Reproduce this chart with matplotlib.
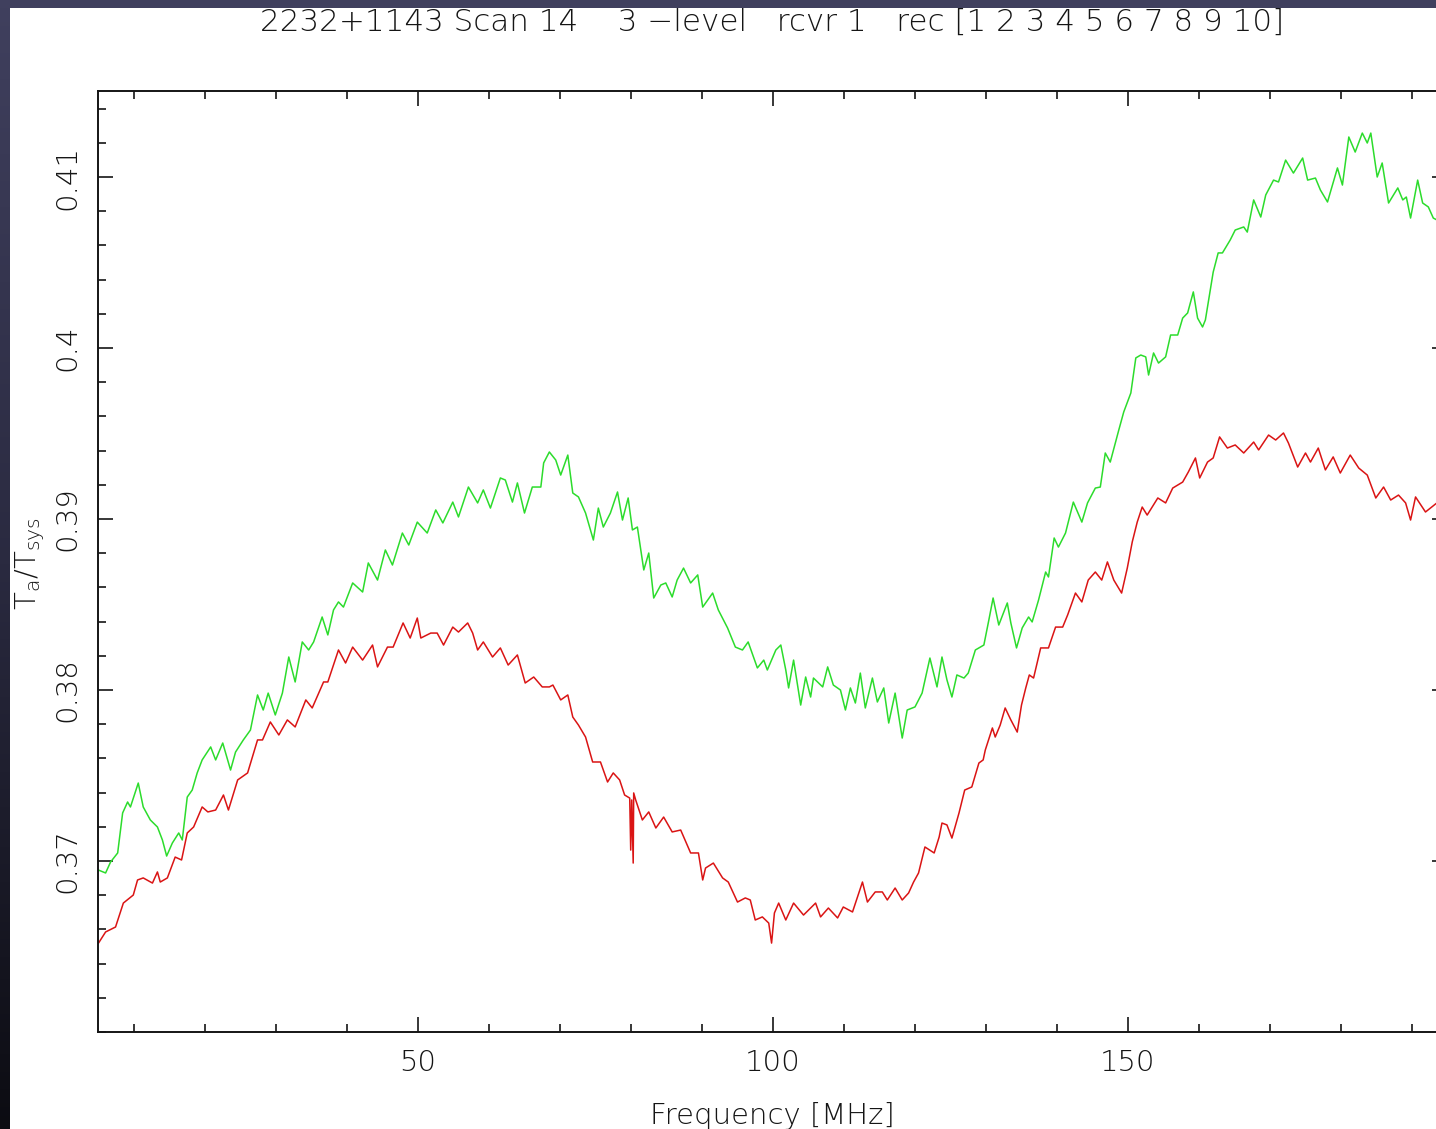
import numpy as np
import matplotlib
matplotlib.use("Agg")
import matplotlib.pyplot as plt
from matplotlib.ticker import MultipleLocator, FixedLocator, FuncFormatter
from matplotlib.colors import LinearSegmentedColormap

# ---------------- data ----------------
green_freq = [5.0, 6.0, 6.7, 7.7, 8.4, 9.1, 9.5, 10.6, 11.3, 12.3, 13.3, 14.0, 14.6, 15.4, 16.3, 16.8,
              17.5, 18.2, 18.9, 19.6, 20.8, 21.5, 22.5, 23.6, 24.3, 25.4, 26.4, 27.4, 28.2, 28.9, 29.9,
              30.9, 31.8, 32.7, 33.7, 34.6, 35.3, 36.5, 37.3, 38.1, 38.8, 39.5, 40.8, 42.2, 43.0, 44.3,
              45.4, 46.4, 47.8, 48.7, 49.9, 51.3, 52.5, 53.5, 54.9, 55.7, 57.1, 58.4, 59.2, 60.2, 61.6,
              62.3, 63.3, 64.0, 65.0, 66.1, 67.3, 67.7, 68.5, 69.4, 70.1, 71.1, 71.8, 72.6, 73.6, 74.7,
              75.4, 76.1, 77.1, 78.1, 78.8, 79.6, 80.2, 80.9, 81.8, 82.5, 83.2, 84.2, 84.9, 85.8, 86.5,
              87.4, 88.4, 89.4, 90.1, 91.5, 92.3, 93.6, 94.7, 95.7, 96.5, 97.8, 98.7, 99.2, 100.4, 101.1,
              101.8, 102.2, 102.9, 103.9, 104.6, 105.3, 105.7, 107.0, 107.7, 108.5, 109.5, 110.2, 110.9,
              111.6, 112.3, 113.0, 114.0, 114.7, 115.6, 116.3, 117.2, 118.2, 118.9, 120.0, 121.0, 122.1,
              123.1, 123.8, 124.5, 125.2, 125.9, 126.9, 127.5, 128.5, 129.7, 130.4, 131.0, 131.8, 133.0,
              133.5, 134.3, 135.1, 136.0, 136.5, 137.4, 138.4, 138.8, 139.6, 140.2, 141.2, 142.3, 143.5,
              144.3, 145.4, 146.1, 146.8, 147.5, 148.7, 149.4, 150.4, 151.1, 151.8, 152.5, 152.9, 153.6,
              154.3, 155.3, 156.0, 157.0, 157.7, 158.4, 159.2, 159.8, 160.5, 160.9, 162.0, 162.7, 163.3,
              164.4, 165.1, 166.3, 166.8, 167.7, 168.7, 169.4, 170.5, 171.2, 172.2, 173.3, 174.6, 175.3,
              176.4, 177.1, 178.1, 179.5, 180.2, 181.1, 182.0, 183.0, 183.7, 184.2, 185.1, 185.8, 186.7,
              188.0, 188.7, 189.2, 189.8, 190.8, 191.5, 192.3, 193.0, 193.5]
green_vals = [0.36947, 0.36930, 0.36994, 0.37047, 0.37281, 0.37345, 0.37316, 0.37456, 0.37316, 0.37240,
              0.37199, 0.37123, 0.37029, 0.37105, 0.37164, 0.37123, 0.37374, 0.37415, 0.37515, 0.37591,
              0.37667, 0.37591, 0.37690, 0.37532, 0.37637, 0.37708, 0.37766, 0.37971, 0.37883, 0.37982,
              0.37854, 0.37982, 0.38193, 0.38047, 0.38281, 0.38234, 0.38281, 0.38427, 0.38322, 0.38468,
              0.38515, 0.38485, 0.38626, 0.38573, 0.38743, 0.38643, 0.38819, 0.38731, 0.38918, 0.38848,
              0.38982, 0.38918, 0.39053, 0.38977, 0.39099, 0.39012, 0.39187, 0.39094, 0.39170, 0.39064,
              0.39240, 0.39228, 0.39099, 0.39211, 0.39035, 0.39187, 0.39187, 0.39328, 0.39392, 0.39345,
              0.39257, 0.39374, 0.39152, 0.39129, 0.39035, 0.38877, 0.39064, 0.38953, 0.39035, 0.39158,
              0.38994, 0.39123, 0.38936, 0.38953, 0.38702, 0.38801, 0.38538, 0.38614, 0.38626, 0.38544,
              0.38643, 0.38713, 0.38626, 0.38673, 0.38485, 0.38567, 0.38468, 0.38363, 0.38251, 0.38234,
              0.38281, 0.38129, 0.38175, 0.38117, 0.38234, 0.38263, 0.38117, 0.38012, 0.38175, 0.37912,
              0.38076, 0.37959, 0.38070, 0.38018, 0.38135, 0.38029, 0.38000, 0.37883, 0.38012, 0.37924,
              0.38099, 0.37895, 0.38070, 0.37930, 0.38012, 0.37807, 0.37982, 0.37719, 0.37883, 0.37901,
              0.37982, 0.38187, 0.38018, 0.38193, 0.38059, 0.37959, 0.38088, 0.38070, 0.38099, 0.38234,
              0.38263, 0.38409, 0.38538, 0.38380, 0.38509, 0.38392, 0.38246, 0.38363, 0.38427, 0.38398,
              0.38526, 0.38690, 0.38661, 0.38889, 0.38836, 0.38918, 0.39099, 0.38982, 0.39094, 0.39181,
              0.39187, 0.39386, 0.39333, 0.39520, 0.39626, 0.39737, 0.39942, 0.39959, 0.39948, 0.39842,
              0.39971, 0.39912, 0.39948, 0.40076, 0.40076, 0.40175, 0.40205, 0.40328, 0.40175, 0.40123,
              0.40164, 0.40444, 0.40556, 0.40556, 0.40632, 0.40690, 0.40708, 0.40678, 0.40866, 0.40766,
              0.40895, 0.40982, 0.40971, 0.41099, 0.41023, 0.41111, 0.40982, 0.40994, 0.40924, 0.40854,
              0.41053, 0.40953, 0.41234, 0.41146, 0.41257, 0.41199, 0.41257, 0.41000, 0.41082, 0.40848,
              0.40936, 0.40866, 0.40883, 0.40760, 0.40982, 0.40848, 0.40825, 0.40760, 0.40749]

red_freq = [5.0, 6.0, 7.4, 8.5, 9.9, 10.5, 11.3, 12.6, 13.3, 13.7, 14.7, 15.8, 16.7, 17.5, 18.4, 19.6,
            20.4, 21.5, 22.6, 23.3, 24.6, 26.0, 27.4, 28.1, 29.2, 30.4, 31.6, 32.7, 34.2, 35.1, 36.7,
            37.3, 38.8, 39.8, 40.8, 42.2, 43.6, 44.3, 45.7, 46.5, 47.9, 48.9, 49.9, 50.4, 51.8, 52.7,
            53.6, 54.9, 55.7, 57.0, 57.7, 58.4, 59.2, 60.5, 61.6, 62.7, 64.0, 65.1, 66.3, 67.5, 68.5,
            69.0, 70.1, 71.1, 71.8, 72.6, 73.6, 74.6, 75.7, 76.7, 77.5, 78.4, 79.1, 79.82, 79.96, 80.10,
            80.31, 80.38, 80.66, 81.6, 82.5, 83.5, 84.6, 85.8, 87.0, 88.4, 89.5, 90.1, 90.5, 91.6, 92.9,
            93.7, 95.0, 96.1, 96.8, 97.5, 98.5, 99.4, 99.8, 100.2, 100.8, 101.8, 102.9, 104.3, 106.0,
            106.7, 107.8, 109.1, 109.9, 111.2, 112.6, 113.3, 114.4, 115.4, 116.1, 117.2, 118.2, 119.1,
            119.8, 120.5, 121.4, 122.7, 123.4, 123.8, 124.5, 125.2, 126.2, 127.0, 128.0, 129.0, 129.6,
            129.9, 130.9, 131.3, 132.0, 132.7, 133.5, 134.4, 135.0, 135.6, 136.1, 136.7, 137.7, 138.8,
            139.8, 140.8, 141.5, 142.6, 143.5, 144.4, 145.4, 146.3, 147.1, 148.0, 149.1, 149.9, 150.6,
            151.3, 152.0, 152.7, 154.2, 155.3, 156.3, 157.7, 158.5, 159.5, 160.1, 161.2, 162.0, 162.9,
            164.0, 165.1, 166.3, 167.7, 168.4, 169.8, 170.8, 171.9, 172.6, 173.9, 175.0, 175.7, 176.8,
            177.8, 178.9, 179.9, 181.3, 182.5, 183.7, 184.9, 186.0, 187.0, 188.1, 189.1, 189.8, 190.5,
            191.9, 193.5]
red_vals = [0.36520, 0.36585, 0.36614, 0.36754, 0.36801, 0.36889, 0.36901, 0.36871, 0.36936, 0.36877,
            0.36901, 0.37023, 0.37006, 0.37164, 0.37199, 0.37316, 0.37287, 0.37298, 0.37386, 0.37298,
            0.37474, 0.37515, 0.37708, 0.37708, 0.37813, 0.37737, 0.37825, 0.37784, 0.37942, 0.37895,
            0.38047, 0.38047, 0.38234, 0.38158, 0.38251, 0.38175, 0.38263, 0.38135, 0.38251, 0.38251,
            0.38392, 0.38304, 0.38421, 0.38304, 0.38333, 0.38333, 0.38263, 0.38368, 0.38339, 0.38392,
            0.38333, 0.38234, 0.38281, 0.38193, 0.38246, 0.38146, 0.38205, 0.38041, 0.38076, 0.38018,
            0.38018, 0.38029, 0.37942, 0.37971, 0.37842, 0.37795, 0.37725, 0.37579, 0.37579, 0.37462,
            0.37515, 0.37474, 0.37386, 0.37368, 0.37064, 0.37357, 0.36988, 0.37398, 0.37357, 0.37240,
            0.37287, 0.37193, 0.37257, 0.37170, 0.37181, 0.37047, 0.37047, 0.36889, 0.36959, 0.36988,
            0.36901, 0.36877, 0.36760, 0.36784, 0.36772, 0.36655, 0.36673, 0.36637, 0.36520, 0.36696,
            0.36754, 0.36655, 0.36754, 0.36684, 0.36754, 0.36673, 0.36725, 0.36667, 0.36731, 0.36702,
            0.36877, 0.36760, 0.36819, 0.36819, 0.36772, 0.36842, 0.36772, 0.36813, 0.36877, 0.36930,
            0.37082, 0.37047, 0.37140, 0.37222, 0.37211, 0.37134, 0.37281, 0.37415, 0.37433, 0.37573,
            0.37591, 0.37649, 0.37778, 0.37725, 0.37795, 0.37895, 0.37825, 0.37754, 0.37912, 0.38012,
            0.38088, 0.38070, 0.38246, 0.38246, 0.38368, 0.38368, 0.38439, 0.38567, 0.38515, 0.38643,
            0.38690, 0.38643, 0.38749, 0.38643, 0.38567, 0.38713, 0.38866, 0.38982, 0.39070, 0.39023,
            0.39123, 0.39094, 0.39181, 0.39216, 0.39275, 0.39357, 0.39240, 0.39333, 0.39357, 0.39480,
            0.39415, 0.39433, 0.39386, 0.39450, 0.39404, 0.39491, 0.39462, 0.39503, 0.39444, 0.39304,
            0.39386, 0.39333, 0.39415, 0.39287, 0.39363, 0.39269, 0.39374, 0.39298, 0.39257, 0.39123,
            0.39187, 0.39111, 0.39140, 0.39094, 0.38994, 0.39129, 0.39041, 0.39094]

x_major_ticks = [50, 100, 150]
y_major_ticks = [0.37, 0.38, 0.39, 0.40, 0.41]
title_text = "2232+1143 Scan 14    3 \u2212level   rcvr 1   rec [1 2 3 4 5 6 7 8 9 10]"
xlabel_text = "Frequency [MHz]"
ylabel_text = r"$\mathregular{T_a/T_{sys}}$"

# ---------------- figure ----------------
W, H = 1436, 1129
fig = plt.figure(figsize=(W / 100, H / 100), dpi=100, facecolor="white")

font = dict(family="DejaVu Sans", fontweight="light")
plt.rcParams["mathtext.default"] = "regular"
ink = "#151515"

ax = fig.add_axes([98 / W, 1 - 1032 / H, (1447 - 98) / W, (1032 - 91) / H])
ax.plot(green_freq, green_vals, color="#2cdc2c", lw=1.1)
ax.plot(red_freq, red_vals, color="#da1414", lw=1.1)

ax.set_xlim(4.93, 194.93)
ax.set_ylim(0.36, 0.41503)
ax.set_xticks(x_major_ticks)
ax.xaxis.set_minor_locator(MultipleLocator(10))
ax.yaxis.set_major_locator(FixedLocator(y_major_ticks))
ax.yaxis.set_minor_locator(MultipleLocator(0.002))
ax.yaxis.set_major_formatter(FuncFormatter(lambda v, p: "%g" % round(v, 4)))

ax.tick_params(which="both", direction="in", top=True, right=True, color=ink, width=1.2)
ax.tick_params(which="major", length=11)
ax.tick_params(which="minor", length=5.5)
ax.tick_params(axis="x", which="major", pad=12, labelsize=21, labelcolor=ink)
ax.tick_params(axis="y", which="major", pad=12, labelsize=21, labelcolor=ink, labelrotation=90)
for lab in ax.get_xticklabels() + ax.get_yticklabels():
    lab.set_fontweight("light")
for lab in ax.get_yticklabels():
    lab.set_va("center")
for s in ax.spines.values():
    s.set_color(ink)
    s.set_linewidth(1.4)

fig.text(772 / W, 1 - 22 / H, title_text, ha="center", va="center", fontsize=22.3,
         color=ink, **font)
fig.text(772 / W, 1 - 1116 / H, xlabel_text, ha="center", va="center", fontsize=21,
         color=ink, **font)
fig.text(30 / W, 1 - 563 / H, ylabel_text, ha="center", va="center", rotation=90,
         fontsize=21, color=ink, **font)

# dark slide border (top band and left gradient band)
cmap = LinearSegmentedColormap.from_list("band", ["#40405e", "#2a2a40", "#0c0c12"])
bax = fig.add_axes([0, 0, 10 / W, 1])
bax.imshow(np.linspace(0, 1, 256).reshape(-1, 1), aspect="auto", cmap=cmap)
bax.axis("off")
tax = fig.add_axes([0, 1 - 8 / H, 1, 8 / H])
tax.set_facecolor("#40405e")
tax.set_xticks([]); tax.set_yticks([])
for s in tax.spines.values():
    s.set_visible(False)

fig.savefig("out.png", dpi=100, facecolor="white")
